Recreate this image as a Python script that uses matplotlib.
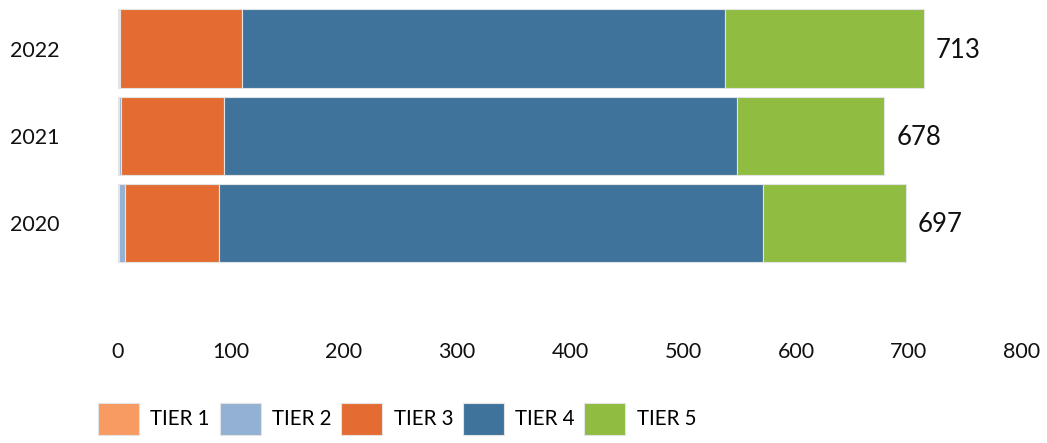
import matplotlib.pyplot as plt
import numpy as np

years = ["2020", "2021", "2022"]
tiers = ["TIER 1", "TIER 2", "TIER 3", "TIER 4", "TIER 5"]
tier1 = [1, 1, 1]
tier2 = [5, 2, 1]
tier3 = [83, 91, 108]
tier4 = [482, 454, 427]
tier5 = [126, 130, 176]
totals = [697, 678, 713]
colors = ["#F79B62", "#92B1D4", "#E46C32", "#3F739C", "#90BC42"]

plt.rcParams['font.family'] = ['Lato', 'DejaVu Sans']

fig = plt.figure(figsize=(10.47, 4.43), dpi=100)
ax = fig.add_axes([0.1127, 0.24, 0.8634, 0.749])

y = np.arange(len(years))
left = np.zeros(len(years))
for name, vals, c in zip(tiers, [tier1, tier2, tier3, tier4, tier5], colors):
    ax.barh(y, vals, left=left, height=0.9, color=c, edgecolor="#e3e3e3",
            linewidth=0.8, label=name)
    left += np.array(vals)

for yi, t in zip(y, totals):
    ax.text(t + 11, yi - 0.02, str(t), va="center", ha="left", fontsize=18.5, color="#111111")

ax.set_xlim(0, 800)
ax.set_ylim(-1.3, 2.5)
ax.set_yticks(y)
ax.set_yticklabels(years)
ax.set_xticks(range(0, 801, 100))
ax.tick_params(axis="both", length=0, labelsize=15.5, colors="#111111")
ax.tick_params(axis="y", pad=42)
ax.tick_params(axis="x", pad=4)
for s in ax.spines.values():
    s.set_visible(False)

fig.legend(loc="upper left", bbox_to_anchor=(98 / 1047, 1 - 403 / 443), ncol=5,
           frameon=False, fontsize=14.8, handlelength=2.0, handleheight=2.0,
           handletextpad=0.55, columnspacing=0.47, borderpad=0, borderaxespad=0)

fig.savefig("out.png", dpi=100)
